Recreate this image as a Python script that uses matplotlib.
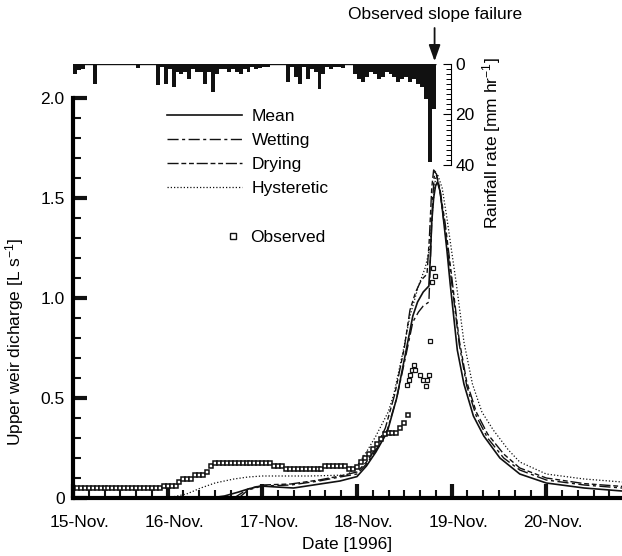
import matplotlib.pyplot as plt
import matplotlib.transforms as mtransforms
from matplotlib.lines import Line2D
import numpy as np

plt.rcParams["font.family"] = ["Liberation Sans", "DejaVu Sans"]
plt.rcParams["font.size"] = 12.5
plt.rcParams["mathtext.default"] = "regular"

# hourly rainfall from 15-Nov 00:00 [mm/hr]
rain_mm_hr = [
    4, 2.5, 2, 0, 0, 8, 0, 0.5, 0.5, 0.5, 0, 0.5,
    0, 0.5, 0, 0, 1.5, 0, 0.5, 0, 0, 8.5, 1, 8,
    2, 9, 3, 4, 3, 6, 2, 3, 3, 8, 3, 11,
    4, 2, 2, 3, 2, 3, 4, 2, 3, 1, 2, 1.5,
    1, 1, 0.5, 0.5, 0.5, 0.5, 7, 1, 5, 8, 1, 6,
    2, 3, 10, 4, 1, 2, 1, 1, 1.5, 0.5, 0.5, 4,
    6, 7, 5, 3, 4, 6, 5, 3, 4, 5, 7, 6,
    5, 7, 6, 8, 9, 14, 39, 18,
]

# observed discharge, hourly from 15-Nov 00:00 [L/s]
obs_hourly = [
    0.05, 0.05, 0.05, 0.05, 0.05, 0.05, 0.05, 0.05, 0.05, 0.05, 0.05, 0.05,
    0.05, 0.05, 0.05, 0.05, 0.05, 0.05, 0.05, 0.05, 0.05, 0.05, 0.05, 0.06,
    0.06, 0.06, 0.06, 0.08, 0.095, 0.095, 0.095, 0.115, 0.115, 0.115, 0.13, 0.16,
    0.177, 0.177, 0.177, 0.177, 0.177, 0.177, 0.177, 0.177, 0.177, 0.177, 0.177, 0.177,
    0.177, 0.177, 0.177, 0.16, 0.16, 0.16, 0.143, 0.143, 0.143, 0.143, 0.143, 0.143,
    0.143, 0.143, 0.143, 0.143, 0.16, 0.16, 0.16, 0.16, 0.16, 0.16, 0.143, 0.143,
    0.155, 0.18, 0.2, 0.22, 0.245, 0.27, 0.295, 0.32, 0.325, 0.325, 0.325, 0.35,
    0.375, 0.415,
]
# scattered observations near the peak
obs_day = [3.53, 3.555, 3.56, 3.58, 3.60, 3.61, 3.67, 3.70, 3.73, 3.745, 3.76, 3.77, 3.79, 3.80, 3.82]
obs_q = [0.565, 0.59, 0.615, 0.64, 0.665, 0.64, 0.615, 0.59, 0.56, 0.59, 0.615, 0.785, 1.08, 1.15, 1.11]

mean_day = [0.0, 1.45, 1.6, 1.75, 1.85, 1.98, 2.15, 2.33, 2.54, 2.82, 3.0, 3.1, 3.2, 3.32,
            3.42, 3.52, 3.59, 3.64, 3.70, 3.76, 3.775, 3.79, 3.81, 3.83, 3.85, 3.88, 3.91,
            3.95, 3.985, 4.06, 4.13, 4.23, 4.34, 4.51, 4.72, 5.0, 5.4, 5.8]
mean_q = [0.0, 0.0, 0.01, 0.03, 0.045, 0.06, 0.055, 0.05, 0.065, 0.085, 0.107, 0.16, 0.23, 0.33,
          0.5, 0.74, 0.91, 0.98, 1.03, 1.06, 1.2, 1.38, 1.5, 1.56, 1.58, 1.53, 1.41,
          1.24, 1.07, 0.74, 0.57, 0.41, 0.31, 0.2, 0.12, 0.075, 0.05, 0.035]

wet_day = [1.75, 1.85, 2.0, 2.3, 2.6, 2.82, 3.0, 3.1, 3.2, 3.32, 3.42, 3.52, 3.59, 3.65,
           3.70, 3.76, 3.78, 3.80, 3.82, 3.84, 3.88, 3.93, 4.0, 4.08, 4.16, 4.26, 4.38,
           4.55, 4.72, 5.0, 5.4, 5.8]
wet_q = [0.0, 0.04, 0.06, 0.065, 0.085, 0.105, 0.12, 0.17, 0.24, 0.34, 0.5, 0.72, 0.88, 0.93,
         0.96, 0.98, 1.25, 1.5, 1.63, 1.62, 1.52, 1.34, 1.08, 0.77, 0.56, 0.41, 0.3,
         0.2, 0.14, 0.09, 0.065, 0.05]

dry_day = [1.7, 1.85, 2.0, 2.3, 2.6, 2.82, 3.0, 3.1, 3.2, 3.3, 3.4, 3.5, 3.56, 3.62,
           3.68, 3.74, 3.765, 3.79, 3.81, 3.83, 3.87, 3.93, 4.0, 4.08, 4.16, 4.26, 4.38,
           4.55, 4.72, 5.0, 5.4, 5.8]
dry_q = [0.0, 0.045, 0.065, 0.07, 0.09, 0.11, 0.13, 0.18, 0.25, 0.35, 0.52, 0.75, 0.94, 1.03,
         1.09, 1.12, 1.3, 1.55, 1.64, 1.63, 1.56, 1.38, 1.11, 0.79, 0.58, 0.43, 0.32,
         0.22, 0.15, 0.1, 0.072, 0.058]

hys_day = [1.0, 1.2, 1.35, 1.5, 1.7, 1.85, 2.0, 2.5, 2.9, 3.0, 3.1, 3.2, 3.33, 3.39, 3.49,
           3.56, 3.65, 3.72, 3.77, 3.80, 3.83, 3.85, 3.9, 3.95, 4.05, 4.13, 4.22, 4.32,
           4.44, 4.6, 4.72, 5.0, 5.4, 5.8]
hys_q = [0.0, 0.02, 0.05, 0.075, 0.095, 0.105, 0.11, 0.11, 0.115, 0.16, 0.23, 0.31, 0.43, 0.52, 0.74,
         0.91, 1.06, 1.15, 1.25, 1.45, 1.6, 1.62, 1.55, 1.4, 1.07, 0.78, 0.57, 0.43,
         0.34, 0.24, 0.18, 0.12, 0.095, 0.08]

date_labels = ["15-Nov.", "16-Nov.", "17-Nov.", "18-Nov.", "19-Nov.", "20-Nov."]
q_ticks = [0, 0.5, 1.0, 1.5, 2.0]
q_tick_labels = ["0", "0.5", "1.0", "1.5", "2.0"]
failure_day = 3.82

W, H = 622, 556
fig = plt.figure(figsize=(W / 100, H / 100), dpi=100)


def px_axes(left, top, right, bottom):
    return fig.add_axes([left / W, 1 - bottom / H, (right - left) / W, (bottom - top) / H])


ink = "#111111"
ax = px_axes(73, 64, 622, 498)
ax.set_xlim(0, 5.8)
ax.set_ylim(0, 434 / 200)

ax.plot(mean_day, mean_q, color=ink, lw=1.2, label="Mean")
ax.plot(wet_day, wet_q, color=ink, lw=1.0, dashes=(8, 2.5, 2.2, 2.5), label="Wetting")
ax.plot(dry_day, dry_q, color=ink, lw=1.0, dashes=(8, 2, 3.5, 2, 3.5, 2), label="Drying")
ax.plot(hys_day, hys_q, color=ink, lw=0.9, dashes=(1, 1.6), label="Hysteretic")
obs_hours = np.arange(len(obs_hourly)) / 24
ax.plot(obs_hours, obs_hourly, ls="none", marker="s", ms=3.0, mfc="white", mec=ink, mew=1.1)
ax.plot(obs_day, obs_q, ls="none", marker="s", ms=3.0, mfc="white", mec=ink, mew=0.9)

for s in ["top", "right"]:
    ax.spines[s].set_visible(False)
ax.spines["left"].set_linewidth(3)
ax.spines["bottom"].set_linewidth(3)
ax.spines["left"].set_bounds(0, 2.0)

ax.set_xticks(range(len(date_labels)))
ax.set_xticklabels(date_labels)
ax.set_xticks(np.arange(0, 5.8, 1 / 6), minor=True)
ax.set_yticks(q_ticks)
ax.set_yticklabels(q_tick_labels)
ax.set_yticks(np.arange(0, 2.01, 0.1), minor=True)
ax.tick_params(which="major", direction="in", length=10, width=3, color=ink, pad=6)
ax.tick_params(which="minor", direction="in", length=6, width=1.5, color=ink)
ax.tick_params(axis="x", which="major", pad=12)
shift = mtransforms.ScaledTranslation(5 / 72, 0, fig.dpi_scale_trans)
for lab in ax.get_xticklabels():
    lab.set_transform(lab.get_transform() + shift)

ax.set_xlabel("Date [1996]", labelpad=5)
ax.set_ylabel("Upper weir dicharge [L s$^{-1}$]")
ax.yaxis.set_label_coords(-0.086, 0.36)

leg = ax.legend(loc="upper left", bbox_to_anchor=(0.172, 0.897), frameon=False,
                handlelength=4.3, handletextpad=0.57, labelspacing=0.52, borderpad=0,
                borderaxespad=0)
ax.add_artist(leg)
obs_handle = Line2D([], [], ls="none", marker="s", ms=4, mfc="white", mec=ink, mew=1.0)
ax.legend([obs_handle], ["Observed"], loc="center left", bbox_to_anchor=(0.275, 0.6),
          frameon=False, handlelength=1.0, handletextpad=0.5, borderpad=0, borderaxespad=0)

# rainfall hyetograph hanging from the top
rax = px_axes(73, 64, 622, 165)
rax.set_xlim(0, 5.8)
rax.set_ylim(40, 0)
rain_t = np.arange(len(rain_mm_hr)) / 24
rax.bar(rain_t, rain_mm_hr, width=1 / 24, align="edge", color=ink, linewidth=0)
rax.hlines(0, 0, len(rain_mm_hr) / 24, color=ink, lw=1.0)
rax.axis("off")
rax.patch.set_alpha(0)

# rainfall scale
sax = px_axes(451, 64, 451.01, 165)
sax.set_ylim(40, 0)
for s in ["top", "left", "bottom"]:
    sax.spines[s].set_visible(False)
sax.spines["right"].set_linewidth(0.8)
sax.set_xticks([])
sax.yaxis.tick_right()
sax.set_yticks([0, 20, 40])
sax.set_yticks(np.arange(0, 41, 2), minor=True)
sax.tick_params(which="major", direction="in", length=6, width=0.8, pad=3, labelsize=12.5)
sax.tick_params(which="minor", direction="in", length=3.5, width=0.7)
sax.patch.set_alpha(0)
fig.text(492 / W, 1 - 143 / H, "Rainfall rate [mm hr$^{-1}$]", rotation=90,
         ha="center", va="center")

rax.annotate("", xy=(failure_day, 0), xycoords="data",
             xytext=(failure_day, 1 - 28 / H), textcoords=("data", "figure fraction"),
             arrowprops=dict(arrowstyle="-|>,head_length=0.7,head_width=0.25",
                             color=ink, lw=1.3, mutation_scale=14, shrinkA=0, shrinkB=2))
fig.text(435 / W, 1 - 14 / H, "Observed slope failure", ha="center", va="center")

fig.savefig("out.png", dpi=100)
